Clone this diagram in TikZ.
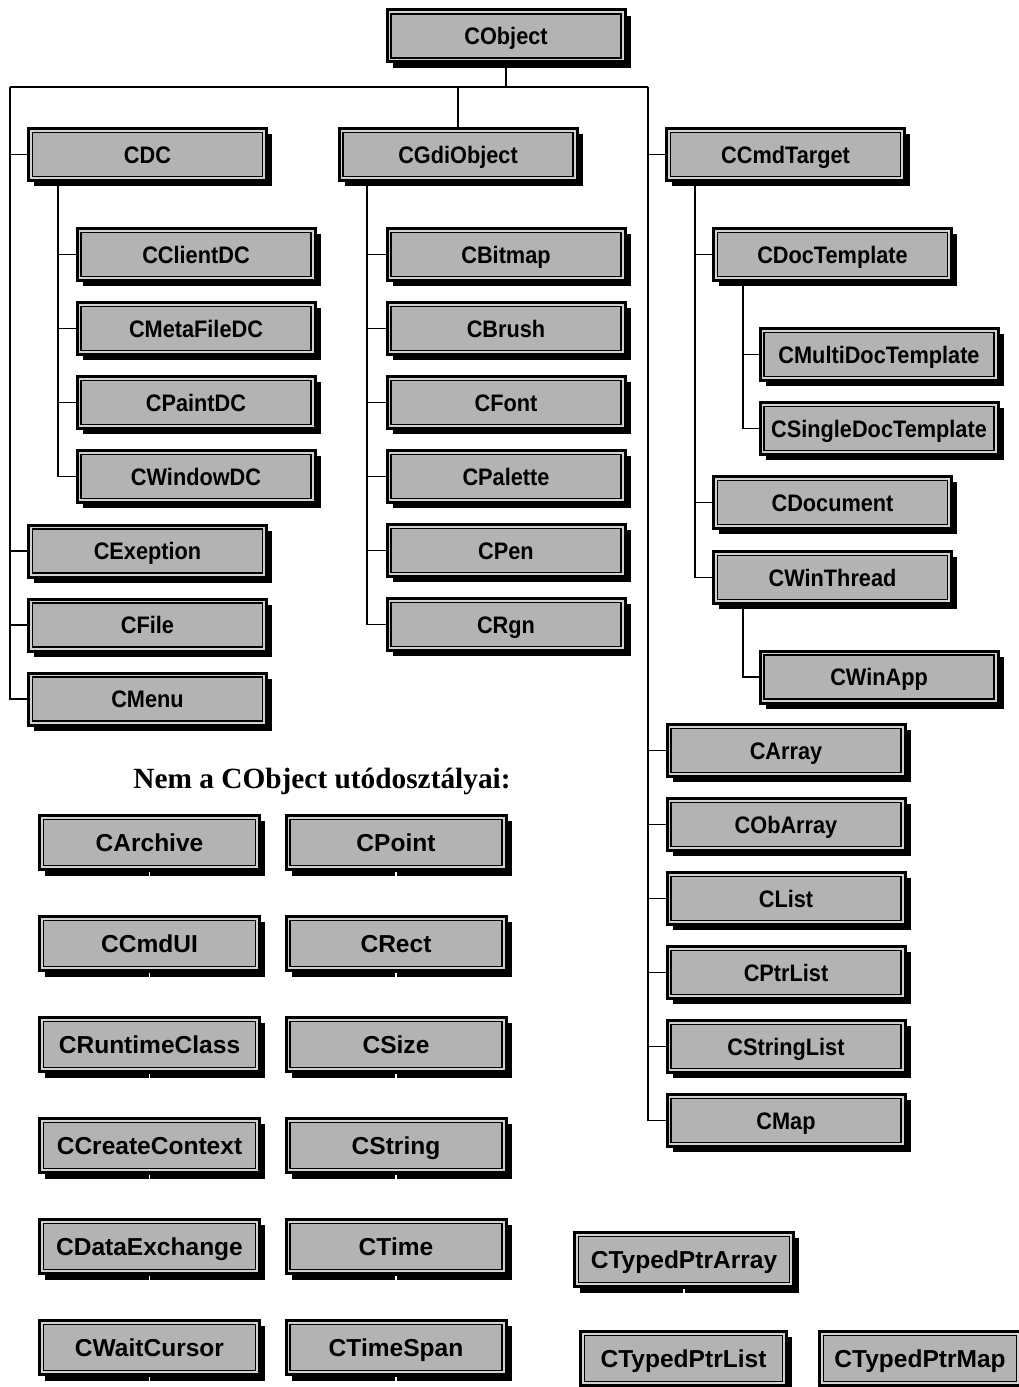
\documentclass[tikz,border=0pt]{standalone}
\usepackage{fontspec}
\setmainfont{Liberation Serif}
\newfontfamily\boxfont{Liberation Sans}
\newfontfamily\treefont[FakeStretch=0.91]{Liberation Sans}
\usetikzlibrary{shadows,backgrounds}
\definecolor{boxfill}{HTML}{B3B3B3}
\definecolor{boxband}{HTML}{D2D2D2}

\begin{document}
\begin{tikzpicture}[x=0.75pt,y=-0.75pt,
  % framed class box with a solid black drop shadow
  boxbase/.style={rectangle, draw=black, line width=2.25pt, fill=boxband,
    inner sep=0pt, outer sep=1.1pt,
    drop shadow={shadow xshift=4.3pt, shadow yshift=-4.3pt, fill=black, opacity=1},
    path picture={\filldraw[fill=boxfill, draw=black, line width=0.9pt]
      ([shift={(3pt,-3pt)}]path picture bounding box.north west) rectangle
      ([shift={(-3pt,3pt)}]path picture bounding box.south east);}},
  cls/.style={boxbase, minimum width=178.5pt, minimum height=39pt,
    font=\treefont\bfseries\fontsize{17.9}{20}\selectfont,
    text height=12.8pt, text depth=0pt},
  lone/.style={boxbase, minimum width=#1, minimum height=41pt,
    font=\boxfont\bfseries\fontsize{18.4}{20}\selectfont,
    text height=13.2pt, text depth=0pt},
  lone/.default=165pt,
  bus/.style={line width=0.85pt},
  sub/.style={line width=1.2pt},
  notch/.style={white, line width=0.8pt}]

\useasboundingbox (0,0) rectangle (1019,1387);
\clip (0,0) rectangle (1019,1387);

% root
\node[cls] (CObject) at (506,36) {CObject};

% left branch
\node[cls] (CDC)         at (147.5,154.5) {CDC};
\node[cls] (CClientDC)   at (196,254.5) {CClientDC};
\node[cls] (CMetaFileDC) at (196,328.5) {CMetaFileDC};
\node[cls] (CPaintDC)    at (196,402.5) {CPaintDC};
\node[cls] (CWindowDC)   at (196,476.5) {CWindowDC};
\node[cls] (CExeption)   at (147.5,551) {CExeption};
\node[cls] (CFile)       at (147.5,625) {CFile};
\node[cls] (CMenu)       at (147.5,699) {CMenu};

% GDI branch
\node[cls] (CGdiObject) at (458,154.5) {CGdiObject};
\node[cls] (CBitmap)    at (506,254.5) {CBitmap};
\node[cls] (CBrush)     at (506,328.5) {CBrush};
\node[cls] (CFont)      at (506,402.5) {CFont};
\node[cls] (CPalette)   at (506,476.5) {CPalette};
\node[cls] (CPen)       at (506,550.5) {CPen};
\node[cls] (CRgn)       at (506,624.5) {CRgn};

% command target branch
\node[cls] (CCmdTarget)         at (785.5,154.5) {CCmdTarget};
\node[cls] (CDocTemplate)       at (832.5,254.5) {CDocTemplate};
\node[cls] (CMultiDocTemplate)  at (879,354.5) {CMultiDocTemplate};
\node[cls] (CSingleDocTemplate) at (879,428.5) {CSingleDocTemplate};
\node[cls] (CDocument)          at (832.5,502.5) {CDocument};
\node[cls] (CWinThread)         at (832.5,577.5) {CWinThread};
\node[cls] (CWinApp)            at (879,677) {CWinApp};

% collections
\node[cls] (CArray)      at (786,750.5) {CArray};
\node[cls] (CObArray)    at (786,824.5) {CObArray};
\node[cls] (CList)       at (786,898.5) {CList};
\node[cls] (CPtrList)    at (786,972.5) {CPtrList};
\node[cls] (CStringList) at (786,1046.5) {CStringList};
\node[cls] (CMap)        at (786,1120.5) {CMap};

% classes outside the hierarchy
\node[font=\bfseries\fontsize{22}{26}\selectfont] (title) at (322,781) {Nem a CObject utódosztályai:};

\node[lone] (CArchive)       at (149.5,842.5)  {CArchive};
\node[lone] (CPoint)         at (396,842.5)    {CPoint};
\node[lone] (CCmdUI)         at (149.5,943.5)  {CCmdUI};
\node[lone] (CRect)          at (396,943.5)    {CRect};
\node[lone] (CRuntimeClass)  at (149.5,1044.5) {CRuntimeClass};
\node[lone] (CSize)          at (396,1044.5)   {CSize};
\node[lone] (CCreateContext) at (149.5,1145.5) {CCreateContext};
\node[lone] (CString)        at (396,1145.5)   {CString};
\node[lone] (CDataExchange)  at (149.5,1246.5) {CDataExchange};
\node[lone] (CTime)          at (396,1246.5)   {CTime};
\node[lone] (CWaitCursor)    at (149.5,1347.5) {CWaitCursor};
\node[lone] (CTimeSpan)      at (396,1347.5)   {CTimeSpan};

\node[lone=164pt]   (CTypedPtrArray) at (684,1259.5) {CTypedPtrArray};
\node[lone=154.5pt] (CTypedPtrList)  at (683.5,1358.5) {CTypedPtrList};
\node[lone=151pt]   (CTypedPtrMap)   at (920,1358.5) {CTypedPtrMap};

% small gaps in the shadows of the free-standing boxes
\foreach \n in {CArchive,CPoint,CCmdUI,CRect,CRuntimeClass,CSize,CCreateContext,
                CString,CDataExchange,CTime,CWaitCursor,CTimeSpan,
                CTypedPtrArray,CTypedPtrList,CTypedPtrMap}
  \draw[notch] ([yshift=-0.5pt]\n.south) -- ++(0,-4.5pt);

\begin{scope}[on background layer]
  % main bus under the root
  \coordinate (busL) at (10,87);
  \coordinate (busR) at (648,87);
  \draw[bus] (CObject.south) -- (CObject.south |- busL);
  \draw[bus] (busL) -- (busR);
  \draw[bus] (busL) |- (CMenu.west);
  \foreach \n in {CDC,CExeption,CFile}
    \draw[bus] (busL |- \n.west) -- (\n.west);
  \draw[bus] (CGdiObject.north |- busL) -- (CGdiObject.north);
  \draw[bus] (busR) |- (CMap.west);
  \foreach \n in {CCmdTarget,CArray,CObArray,CList,CPtrList,CStringList}
    \draw[bus] (busR |- \n.west) -- (\n.west);

  % device contexts
  \coordinate (dcx) at (58,0);
  \draw[sub] (CDC.south -| dcx) |- (CWindowDC.west);
  \foreach \n in {CClientDC,CMetaFileDC,CPaintDC}
    \draw[sub] (dcx |- \n.west) -- (\n.west);

  % GDI objects
  \coordinate (gdix) at (367,0);
  \draw[sub] (CGdiObject.south -| gdix) |- (CRgn.west);
  \foreach \n in {CBitmap,CBrush,CFont,CPalette,CPen}
    \draw[sub] (gdix |- \n.west) -- (\n.west);

  % command targets
  \coordinate (cmdx) at (695,0);
  \draw[sub] (CCmdTarget.south -| cmdx) |- (CWinThread.west);
  \foreach \n in {CDocTemplate,CDocument}
    \draw[sub] (cmdx |- \n.west) -- (\n.west);

  % document templates and application
  \coordinate (tplx) at (743,0);
  \draw[sub] (CDocTemplate.south -| tplx) |- (CSingleDocTemplate.west);
  \draw[sub] (tplx |- CMultiDocTemplate.west) -- (CMultiDocTemplate.west);
  \draw[sub] (CWinThread.south -| tplx) |- (CWinApp.west);
\end{scope}
\end{tikzpicture}
\end{document}
